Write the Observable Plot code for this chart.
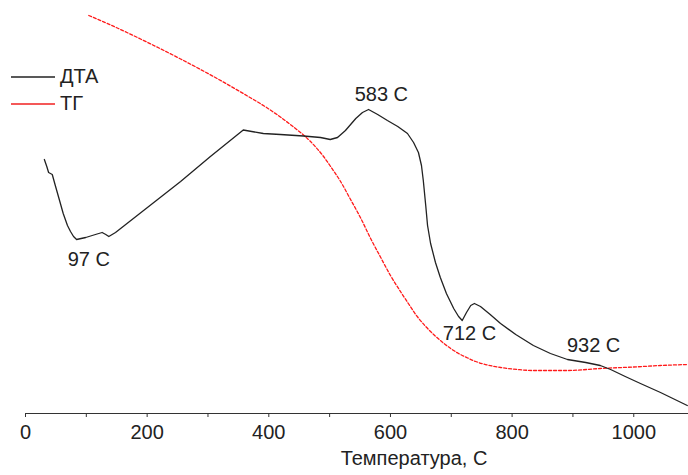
<!DOCTYPE html>
<html>
<head>
<meta charset="utf-8">
<script src="https://cdn.jsdelivr.net/npm/d3@7"></script>
<script src="https://cdn.jsdelivr.net/npm/@observablehq/plot@0.6"></script>
<style>
  html, body { margin: 0; padding: 0; background: #fff; }
  #wrap { position: relative; width: 688px; height: 475px; font-family: "Liberation Sans", Arial, sans-serif; }
  #legend { position: absolute; left: 11px; top: 63px; font-size: 20px; color: #222; line-height: 27px; }
  #legend .row { display: flex; align-items: center; }
  #legend svg { margin-right: 5px; }
</style>
</head>
<body>
<div id="wrap">
  <div id="chart"></div>
  <div id="legend">
    <div class="row"><svg width="44" height="4"><line x1="0" y1="2" x2="44" y2="2" stroke="#222" stroke-width="1.5"/></svg>ДТА</div>
    <div class="row"><svg width="44" height="4"><line x1="0" y1="2" x2="44" y2="2" stroke="#f02020" stroke-width="1.5"/></svg>ТГ</div>
  </div>
</div>
<script>
// DTA curve: temperature (°C) and signal (arbitrary units)
const dtaT = [31, 35, 38, 44, 49, 56, 62, 69, 74, 79, 84, 99, 115, 126, 132, 137, 148, 255, 304, 358, 391, 419, 457, 485, 501, 513, 526, 543, 554, 564, 579, 595, 612, 628, 638, 646, 651, 654, 658, 661, 666, 674, 682, 692, 704, 712, 718, 725, 732, 738, 748, 764, 781, 806, 835, 863, 891, 921, 945, 962, 986, 1011, 1044, 1088];
const dtaV = [254, 247, 241, 239, 228, 213, 200, 188, 182, 177, 174, 176, 179, 181, 179, 177, 181, 232, 257, 283.5, 280, 279, 277.5, 276, 274, 276, 283, 295, 301, 304, 299, 293, 287, 280, 271, 261, 248, 233, 208, 188, 170, 151, 136, 120, 105, 97, 93, 101, 108, 110, 107, 99, 90, 79, 68, 60, 54, 51, 48, 44, 37, 30, 21, 8];

// TG curve: temperature (°C) and mass signal (arbitrary units)
const tgT = [104, 140, 201, 255, 309, 365, 395, 419, 447, 457, 477, 490, 501, 518, 534, 551, 567, 584, 600, 617, 630, 644, 658, 671, 686, 699, 712, 727, 740, 753, 781, 809, 835, 891, 945, 1000, 1044, 1088];
const tgV = [398, 388.5, 371, 354.5, 337, 317.5, 306.5, 296.5, 283.5, 278.5, 266.5, 257, 247.5, 232, 214.5, 195.5, 175.5, 156, 138, 121.5, 109.5, 97, 87, 79, 71, 65, 60, 55.5, 52, 49.5, 46, 44, 43, 43, 45, 46.5, 48, 49];

// Peak annotations
const peakLabels = ["97 C", "583 C", "712 C", "932 C"];
const peakLabelT = [104, 585, 730, 934];
const peakLabelV = [154, 319, 80, 68];

const xTicks = d3.range(0, 1001, 100);
const xLabel = "Температура, С";

const dta = dtaT.map((t, i) => ({t, v: dtaV[i]}));
const tg = tgT.map((t, i) => ({t, v: tgV[i]}));
const notes = peakLabels.map((s, i) => ({s, t: peakLabelT[i], v: peakLabelV[i]}));

const chart = Plot.plot({
  width: 688,
  height: 475,
  marginLeft: 25,
  marginRight: 0,
  marginTop: 13,
  marginBottom: 62,
  style: {fontFamily: "'Liberation Sans', Arial, sans-serif", fontSize: "20px", color: "#222", background: "#fff"},
  x: {domain: [0, 1090]},
  y: {domain: [0, 400], axis: null},
  marks: [
    Plot.ruleY([0], {stroke: "#333", strokeWidth: 1.2}),
    Plot.axisX({ticks: xTicks, tickSize: 4, tickPadding: 7, tickFormat: d => d % 200 === 0 ? String(d) : "", label: null, fontSize: 20, stroke: "#333"}),
    Plot.line(tg, {x: "t", y: "v", stroke: "#ff1a1a", strokeWidth: 1.3, strokeDasharray: "3,2", curve: "monotone-x"}),
    Plot.line(dta, {x: "t", y: "v", stroke: "#222", strokeWidth: 1.3, curve: "linear"}),
    Plot.text(notes, {x: "t", y: "v", text: "s", fontSize: 20, fill: "#222"}),
    Plot.text([xLabel], {frameAnchor: "bottom", dx: 57, dy: 51, fontSize: 20, fill: "#222"})
  ]
});
document.getElementById("chart").appendChild(chart);
</script>
</body>
</html>
